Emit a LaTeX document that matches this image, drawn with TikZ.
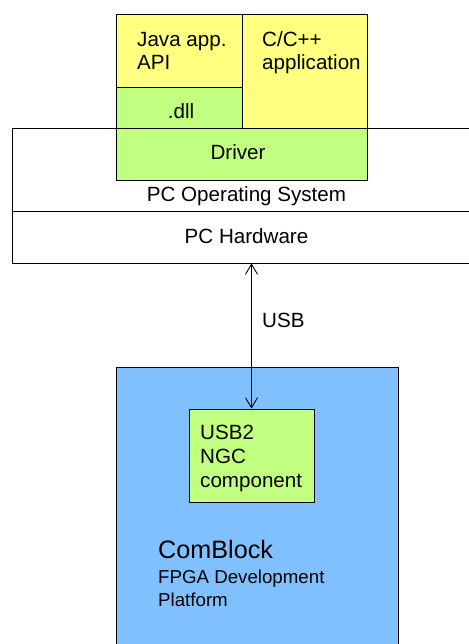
\documentclass[tikz,border=0pt]{standalone}
\usepackage{fontspec}
\setmainfont{Liberation Sans}
\usetikzlibrary{arrows.meta}

\definecolor{appyellow}{HTML}{FFFF80}
\definecolor{drvgreen}{HTML}{C0FF80}
\definecolor{fpgablue}{HTML}{80C0FF}

\tikzset{
    box/.style={draw=black, line width=0.8pt, rectangle, inner sep=0pt},
    txt/.style={inner sep=0pt, align=left, font=\fontsize{20.6}{23.6}\selectfont},
    usblink/.style={line width=0.9pt, {Straight Barb[length=10pt,width=12pt]}-{Straight Barb[length=10pt,width=12pt]}}
}

\begin{document}
\begin{tikzpicture}[x=1pt,y=1pt,yscale=-1]
    \useasboundingbox (0,0) rectangle (468,644);

    % PC side
    \node [box, fill=white, minimum width=468pt, minimum height=83pt] (pcos) at (246,169.5) {};
    \node [box, fill=white, minimum width=468pt, minimum height=52pt] (pchw) at (246,237) {};
    \node [box, fill=drvgreen, minimum width=251pt, minimum height=52pt] (driver) at (241.5,154) {};
    \node [box, fill=appyellow, minimum width=126pt, minimum height=73pt] (java) at (179,50.5) {};
    \node [box, fill=drvgreen, minimum width=126pt, minimum height=41pt] (dll) at (179,107.5) {};
    \node [box, fill=appyellow, minimum width=125pt, minimum height=114pt] (capp) at (304.5,71) {};

    % FPGA side
    \node [box, fill=fpgablue, minimum width=282pt, minimum height=293pt] (fpga) at (257,513.5) {};
    \node [box, fill=drvgreen, minimum width=125pt, minimum height=93pt] (usb2) at (251.5,455.5) {};

    % USB link
    \draw [usblink] (usb2.north |- pchw.south) -- (usb2.north);

    % Text Nodes (multi-line nodes sit on the baseline of their last line)
    \node [txt, anchor=base west] (javatxt) at (137,70) {Java app.\\API};
    \node [txt, anchor=base west] (capptxt) at (262,70) {C/C++\\application};
    \node [txt, anchor=base] (dlltxt) at (181,119) {.dll};
    \node [txt, anchor=base] (drvtxt) at (238,160) {Driver};
    \node [txt, anchor=base] (ostxt) at (246.5,202) {PC Operating System};
    \node [txt, anchor=base] (hwtxt) at (246.5,243) {PC Hardware};
    \node [txt, anchor=base west] (usbtxt) at (262,327) {USB};
    \node [txt, anchor=base west] (usb2txt) at (200,487) {USB2\\NGC\\component};
    \node [txt, anchor=base west, font=\fontsize{25.2}{28}\selectfont] (cbtxt) at (158,558) {ComBlock};
    \node [txt, anchor=base west, font=\fontsize{18.7}{23}\selectfont] (fpgatxt) at (158,606) {FPGA Development\\Platform};
\end{tikzpicture}
\end{document}
